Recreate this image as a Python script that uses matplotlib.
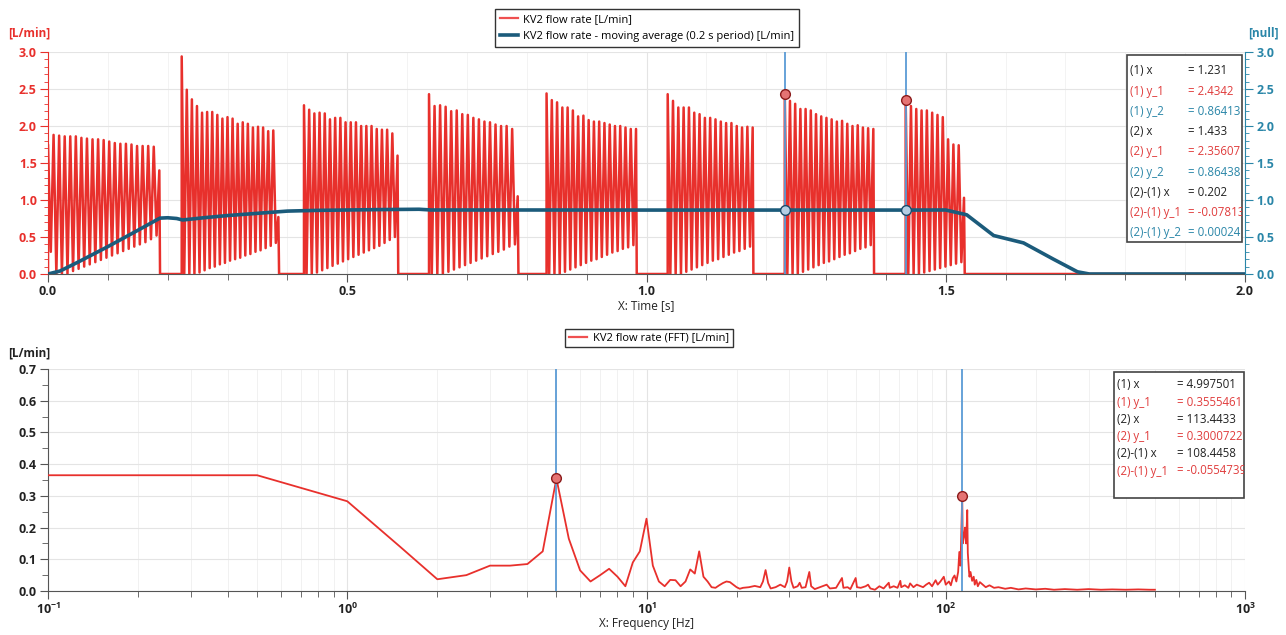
"""
KV2 flow rate: time trace with moving average (top) and its FFT spectrum (bottom),
with the two cursor read-out boxes.
"""

import matplotlib
matplotlib.use("Agg")
import matplotlib.pyplot as plt
import numpy as np
from matplotlib.lines import Line2D
from matplotlib.patches import Rectangle
from matplotlib.ticker import MultipleLocator, FormatStrFormatter, LogLocator, NullFormatter

plt.rcParams["font.family"] = ["Open Sans", "DejaVu Sans"]

W, H = 1286, 635

RED = "#e8302c"
TEAL = "#1b5b7b"
AXTEAL = "#2a86a8"
CURSOR = "#5b9bd5"
TXT_RED = "#e03c3c"

# --- top chart: pulse bursts (first/last peak time, peak heights, troughs between peaks)
BURST_START = [0.0, 0.2234, 0.4277, 0.6366, 0.8330, 1.0354, 1.231, 1.433]
BURST_LAST = [0.186, 0.3849, 0.5840, 0.7848, 0.9825, 1.1774, 1.379, 1.5305]
BURST_PEAKS = [
    [1.75, 1.88, 1.87, 1.86, 1.86, 1.86, 1.84, 1.83, 1.82, 1.82, 1.81, 1.79, 1.77, 1.76,
     1.76, 1.75, 1.73, 1.73, 1.73, 1.72, 1.40],
    [2.94, 2.49, 2.36, 2.27, 2.18, 2.19, 2.19, 2.15, 2.10, 2.12, 2.10, 2.03, 2.05, 2.03,
     1.98, 1.99, 1.98, 1.93, 1.94, 0.77],
    [2.28, 2.22, 2.17, 2.18, 2.17, 2.09, 2.11, 2.11, 2.05, 2.05, 2.05, 2.00, 2.00, 2.00,
     1.96, 1.95, 1.95, 1.90, 1.60],
    [2.43, 2.27, 2.28, 2.26, 2.20, 2.21, 2.16, 2.15, 2.11, 2.09, 2.06, 2.05, 2.02, 2.00,
     2.00, 1.96, 1.05],
    [2.44, 2.35, 2.32, 2.25, 2.25, 2.21, 2.13, 2.14, 2.08, 2.06, 2.06, 2.04, 2.02, 2.00,
     2.00, 1.98, 1.96, 1.96],
    [2.43, 2.34, 2.25, 2.25, 2.25, 2.18, 2.16, 2.11, 2.11, 2.09, 2.06, 2.04, 2.04, 2.00,
     1.98, 1.99, 1.98],
    [2.4342, 2.34, 2.30, 2.23, 2.23, 2.21, 2.16, 2.13, 2.11, 2.09, 2.06, 2.07, 2.03, 2.00,
     2.01, 1.98, 1.97, 1.96],
    [2.356, 2.27, 2.23, 2.21, 2.21, 2.18, 2.15, 2.12, 1.82, 1.75, 1.74, 1.03],
]
BURST_TROUGHS = [
    [0.3, 0.0, 0.0, 0.0, 0.04, 0.07, 0.10, 0.13, 0.16, 0.19, 0.22, 0.25, 0.28, 0.31,
     0.34, 0.37, 0.40, 0.43, 0.47, 0.52],
    [0.0, 0.0, 0.0, 0.02, 0.05, 0.08, 0.10, 0.13, 0.15, 0.18, 0.20, 0.22, 0.25, 0.27,
     0.30, 0.32, 0.35, 0.38, 0.42],
    [0.0, 0.0, 0.02, 0.05, 0.08, 0.11, 0.14, 0.17, 0.20, 0.23, 0.26, 0.29, 0.32, 0.35,
     0.38, 0.42, 0.46, 0.50],
    [0.0, 0.0, 0.0, 0.03, 0.06, 0.09, 0.12, 0.15, 0.18, 0.21, 0.24, 0.27, 0.30, 0.33,
     0.37, 0.40],
    [0.0, 0.0, 0.0, 0.03, 0.06, 0.09, 0.12, 0.15, 0.18, 0.20, 0.23, 0.26, 0.29, 0.31,
     0.34, 0.36, 0.39],
    [0.0, 0.0, 0.0, 0.03, 0.06, 0.09, 0.12, 0.15, 0.18, 0.20, 0.23, 0.26, 0.29, 0.31,
     0.34, 0.37],
    [0.0, 0.0, 0.0, 0.03, 0.06, 0.09, 0.12, 0.15, 0.17, 0.20, 0.23, 0.26, 0.28, 0.31,
     0.34, 0.36, 0.39],
    [0.0, 0.0, 0.0, 0.02, 0.04, 0.06, 0.08, 0.10, 0.12, 0.14, 0.16],
]

# moving average (0.2 s)
MA_T = [0.0, 0.02, 0.05, 0.10, 0.15, 0.187, 0.20, 0.215, 0.225, 0.26, 0.30, 0.35, 0.40,
        0.45, 0.55, 0.62, 0.64, 0.80, 1.00, 1.231, 1.433, 1.50, 1.535, 1.58, 1.63, 1.68,
        1.72, 1.74, 2.0]
MA_V = [0.0, 0.04, 0.16, 0.37, 0.59, 0.755, 0.76, 0.75, 0.73, 0.76, 0.79, 0.82, 0.85,
        0.86, 0.87, 0.875, 0.865, 0.865, 0.864, 0.864, 0.864, 0.865, 0.80, 0.52, 0.42,
        0.20, 0.03, 0.0, 0.0]

CUR_T = [1.231, 1.433]
CUR_Y1 = [2.4342, 2.35607]
CUR_Y2 = [0.86413, 0.86438]

TOP_LABELS = ["(1) x", "(1) y_1", "(1) y_2", "(2) x", "(2) y_1", "(2) y_2",
              "(2)-(1) x", "(2)-(1) y_1", "(2)-(1) y_2"]
TOP_VALUES = ["= 1.231", "= 2.4342", "= 0.86413", "= 1.433", "= 2.35607", "= 0.86438",
              "= 0.202", "= -0.07813", "= 0.00024"]
TOP_KINDS = ["x", "y1", "y2", "x", "y1", "y2", "x", "y1", "y2"]

# --- bottom chart: FFT
FFT_F = [0.1, 0.5, 1.0, 1.5, 2.0, 2.5, 3.0, 3.5, 4.0, 4.5, 5.0, 5.5, 6.0, 6.5, 7.0, 7.5,
         8.0, 8.5, 9.0, 9.5, 10.0, 10.5, 11.0, 11.5, 12.0, 12.5, 13.0, 13.5, 14.0, 14.5,
         15.0, 15.5, 16.0, 16.5, 17.0, 17.5, 18.0, 18.5, 19.0, 19.5, 20.0, 20.5, 21.0,
         22.0, 23.0, 24.0, 24.5, 25.0, 25.5, 26.0, 27.0, 28.0, 29.0, 29.5, 30.0, 30.5,
         31.0, 32.0, 32.5, 33.0, 34.0, 35.0, 35.5, 36.5, 38.0, 40.0, 41.0, 43.0, 45.0,
         45.5, 47.0, 48.0, 50.0, 50.5, 52.0, 54.0, 55.0, 56.0, 58.0, 60.0, 62.0, 64.5,
         65.0, 67.0, 69.0, 70.5, 71.0, 73.0, 75.0, 76.0, 78.0, 80.0, 82.0, 84.0, 86.0,
         88.0, 90.0, 92.5, 94.0, 96.0, 98.5, 100.0, 102.5, 104.0, 105.5, 107.0, 108.5,
         110.0, 111.0, 112.0, 113.5, 114.0, 115.0, 116.0, 117.0, 118.0, 118.5, 119.5,
         120.0, 121.0, 122.5, 124.0, 125.0, 126.5, 128.0, 130.0, 133.0, 136.0, 140.0,
         145.0, 150.0, 158.0, 165.0, 175.0, 185.0, 200.0, 215.0, 230.0, 250.0, 275.0,
         300.0, 330.0, 360.0, 400.0, 440.0, 480.0, 500.0]
FFT_A = [0.365, 0.365, 0.283, 0.14, 0.037, 0.05, 0.08, 0.08, 0.085, 0.125, 0.355, 0.165,
         0.065, 0.03, 0.05, 0.07, 0.045, 0.015, 0.09, 0.125, 0.228, 0.08, 0.03, 0.015,
         0.035, 0.034, 0.015, 0.03, 0.068, 0.055, 0.125, 0.045, 0.03, 0.012, 0.01, 0.018,
         0.025, 0.03, 0.028, 0.02, 0.012, 0.007, 0.01, 0.012, 0.016, 0.012, 0.03, 0.066,
         0.025, 0.008, 0.012, 0.02, 0.012, 0.03, 0.074, 0.03, 0.01, 0.015, 0.026, 0.01,
         0.012, 0.06, 0.015, 0.006, 0.012, 0.02, 0.008, 0.01, 0.041, 0.01, 0.012, 0.006,
         0.041, 0.012, 0.01, 0.015, 0.02, 0.008, 0.004, 0.015, 0.008, 0.026, 0.01, 0.015,
         0.01, 0.032, 0.012, 0.018, 0.01, 0.024, 0.012, 0.02, 0.016, 0.012, 0.02, 0.026,
         0.015, 0.034, 0.02, 0.03, 0.045, 0.02, 0.03, 0.018, 0.04, 0.049, 0.03, 0.06,
         0.123, 0.08, 0.30, 0.15, 0.17, 0.20, 0.15, 0.255, 0.12, 0.066, 0.045, 0.06,
         0.032, 0.045, 0.02, 0.035, 0.015, 0.028, 0.02, 0.012, 0.018, 0.01, 0.012, 0.007,
         0.01, 0.005, 0.008, 0.005, 0.007, 0.004, 0.006, 0.004, 0.006, 0.004, 0.005,
         0.004, 0.005, 0.004, 0.004]

CUR_F = [4.997501, 113.4433]
CUR_FA = [0.3555461, 0.3000722]

BOT_LABELS = ["(1) x", "(1) y_1", "(2) x", "(2) y_1", "(2)-(1) x", "(2)-(1) y_1"]
BOT_VALUES = ["= 4.997501", "= 0.3555461", "= 113.4433", "= 0.3000722", "= 108.4458",
              "= -0.0554739"]
BOT_KINDS = ["x", "y1", "x", "y1", "x", "y1"]

KIND_COLOR = {"x": "#222222", "y1": TXT_RED, "y2": AXTEAL}


def fx(px):
    return px / W


def fy(py):
    return 1 - py / H


def burst_trace():
    t, v = [], []
    for t0, t1, peaks, troughs in zip(BURST_START, BURST_LAST, BURST_PEAKS, BURST_TROUGHS):
        n = len(peaks)
        dt = (t1 - t0) / (n - 1)
        t.append(t0)
        v.append(0.0)
        for k in range(n):
            t.append(t0 + k * dt)
            v.append(peaks[k])
            if k < n - 1:
                t.append(t0 + (k + 0.5) * dt)
                v.append(troughs[k])
        t.append(t1 + 0.0012)
        v.append(0.0)
    t.append(2.0)
    v.append(0.0)
    return np.array(t), np.array(v)


def readout(fig, box, labels, values, kinds, row0, row_h, lab_x, eq_x, fs=8.3):
    x0, y0, x1, y1 = box
    rect = Rectangle((fx(x0), fy(y1)), fx(x1) - fx(x0), fy(y0) - fy(y1),
                     transform=fig.transFigure, facecolor="white", edgecolor="#444444",
                     lw=1.2, zorder=10)
    fig.add_artist(rect)
    for i, (lab, val, kind) in enumerate(zip(labels, values, kinds)):
        y = fy(row0 + i * row_h)
        c = KIND_COLOR[kind]
        for x, s in ((lab_x, lab), (eq_x, val)):
            t = fig.text(fx(x), y, s, color=c, fontsize=fs, va="center", ha="left", zorder=11)
            t.set_clip_path(rect)


def bold(labels):
    for lbl in labels:
        lbl.set_fontweight("bold")


fig = plt.figure(figsize=(W / 100, H / 100), dpi=100)
ax = fig.add_axes([fx(48), fy(274), fx(1245) - fx(48), fy(52) - fy(274)])
ax2 = fig.add_axes([fx(48), fy(591), fx(1245) - fx(48), fy(369) - fy(591)])

# ---------------- top chart
t, v = burst_trace()
ax.plot(t, v, color=RED, lw=1.8, zorder=3)
ax.plot(MA_T, MA_V, color=TEAL, lw=2.6, zorder=4, solid_capstyle="round")
for xc in CUR_T:
    ax.axvline(xc, color=CURSOR, lw=1.3, zorder=5)
ax.plot(CUR_T, CUR_Y1, "o", ms=7, mfc="#e57373", mec="#8b1a1a", mew=1.0, zorder=6)
ax.plot(CUR_T, CUR_Y2, "o", ms=7, mfc="#b5cde3", mec="#1b4b6b", mew=1.0, zorder=6)

ax.set_xlim(0, 2.0)
ax.set_ylim(0, 3.0)
ax.xaxis.set_major_locator(MultipleLocator(0.5))
ax.xaxis.set_minor_locator(MultipleLocator(0.1))
ax.yaxis.set_major_locator(MultipleLocator(0.5))
ax.yaxis.set_minor_locator(MultipleLocator(0.1))
ax.xaxis.set_major_formatter(FormatStrFormatter("%.1f"))
ax.yaxis.set_major_formatter(FormatStrFormatter("%.1f"))
ax.grid(which="major", color="#e4e4e4", lw=0.8, zorder=0)
ax.grid(which="minor", axis="x", color="#f1f1f1", lw=0.6, zorder=0)
ax.tick_params(axis="y", which="both", colors=RED, labelsize=9, pad=2)
ax.tick_params(axis="y", which="major", length=6)
ax.tick_params(axis="y", which="minor", length=3)
ax.tick_params(axis="x", which="both", colors="#555555", labelcolor="#222222", labelsize=9,
               pad=2)
ax.tick_params(axis="x", which="major", length=6)
ax.tick_params(axis="x", which="minor", length=4)
ax.spines["top"].set_visible(False)
ax.spines["right"].set_visible(False)
ax.spines["left"].set_color(RED)
ax.spines["bottom"].set_color("#555555")
ax.set_xlabel("X: Time [s]", fontsize=8.5, labelpad=1, color="#222222")
bold(ax.get_xticklabels() + ax.get_yticklabels())

axr = ax.twinx()
axr.set_ylim(0, 3.0)
axr.yaxis.set_major_locator(MultipleLocator(0.5))
axr.yaxis.set_minor_locator(MultipleLocator(0.1))
axr.yaxis.set_major_formatter(FormatStrFormatter("%.1f"))
axr.tick_params(axis="y", which="both", colors=AXTEAL, labelsize=9, pad=2)
axr.tick_params(axis="y", which="major", length=6)
axr.tick_params(axis="y", which="minor", length=3)
for s in ("top", "left", "bottom"):
    axr.spines[s].set_visible(False)
axr.spines["right"].set_color(AXTEAL)
bold(axr.get_yticklabels())

fig.text(fx(8), fy(33), "[L/min]", color=RED, fontsize=8.5, fontweight="bold", va="center")
fig.text(fx(1248), fy(33), "[null]", color=AXTEAL, fontsize=8.5, fontweight="bold",
         va="center")

top_handles = [Line2D([], [], color="#ef5050", lw=1.6), Line2D([], [], color=TEAL, lw=2.6)]
leg = fig.legend(top_handles, ["KV2 flow rate [L/min]",
                               "KV2 flow rate - moving average (0.2 s period) [L/min]"],
                 loc="center", bbox_to_anchor=(fx(647), fy(28)), fontsize=8,
                 frameon=True, fancybox=False, edgecolor="#333333", framealpha=1,
                 handlelength=1.6, handletextpad=0.5, labelspacing=0.55, borderpad=0.45)
leg.get_frame().set_linewidth(1.0)

readout(fig, (1127, 55, 1242, 242), TOP_LABELS, TOP_VALUES, TOP_KINDS,
        row0=71, row_h=20.2, lab_x=1130, eq_x=1188)

# ---------------- bottom chart
ax2.plot(FFT_F, FFT_A, color=RED, lw=1.3, zorder=3)
for xc in CUR_F:
    ax2.axvline(xc, color=CURSOR, lw=1.3, zorder=4)
ax2.plot(CUR_F, CUR_FA, "o", ms=7, mfc="#e57373", mec="#8b1a1a", mew=1.0, zorder=6)

ax2.set_xscale("log")
ax2.set_xlim(0.1, 1000)
ax2.set_ylim(0, 0.7)
ax2.yaxis.set_major_locator(MultipleLocator(0.1))
ax2.yaxis.set_minor_locator(MultipleLocator(0.05))
ax2.yaxis.set_major_formatter(FormatStrFormatter("%.1f"))
ax2.xaxis.set_minor_locator(LogLocator(base=10, subs=np.arange(2, 10)))
ax2.xaxis.set_minor_formatter(NullFormatter())
ax2.grid(which="major", color="#e4e4e4", lw=0.8, zorder=0)
ax2.grid(which="minor", axis="x", color="#efefef", lw=0.6, zorder=0)
ax2.tick_params(axis="both", which="both", colors="#555555", labelcolor="#222222",
                labelsize=9, pad=2)
ax2.tick_params(which="major", length=6)
ax2.tick_params(which="minor", length=4)
ax2.spines["top"].set_visible(False)
ax2.spines["right"].set_visible(False)
ax2.spines["left"].set_color("#555555")
ax2.spines["bottom"].set_color("#555555")
ax2.set_xlabel("X: Frequency [Hz]", fontsize=8.5, labelpad=0, color="#222222")
bold(ax2.get_xticklabels() + ax2.get_yticklabels())

fig.text(fx(8), fy(353), "[L/min]", color="#222222", fontsize=8.5, fontweight="bold",
         va="center")

leg2 = fig.legend([Line2D([], [], color="#ef5050", lw=1.6)], ["KV2 flow rate (FFT) [L/min]"],
                  loc="center", bbox_to_anchor=(fx(649), fy(338)), fontsize=8,
                  frameon=True, fancybox=False, edgecolor="#333333", framealpha=1,
                  handlelength=1.6, handletextpad=0.5, borderpad=0.35)
leg2.get_frame().set_linewidth(1.0)

readout(fig, (1114, 372, 1244, 498), BOT_LABELS, BOT_VALUES, BOT_KINDS,
        row0=385, row_h=17.2, lab_x=1117, eq_x=1177)

fig.savefig("out.png", dpi=100)
